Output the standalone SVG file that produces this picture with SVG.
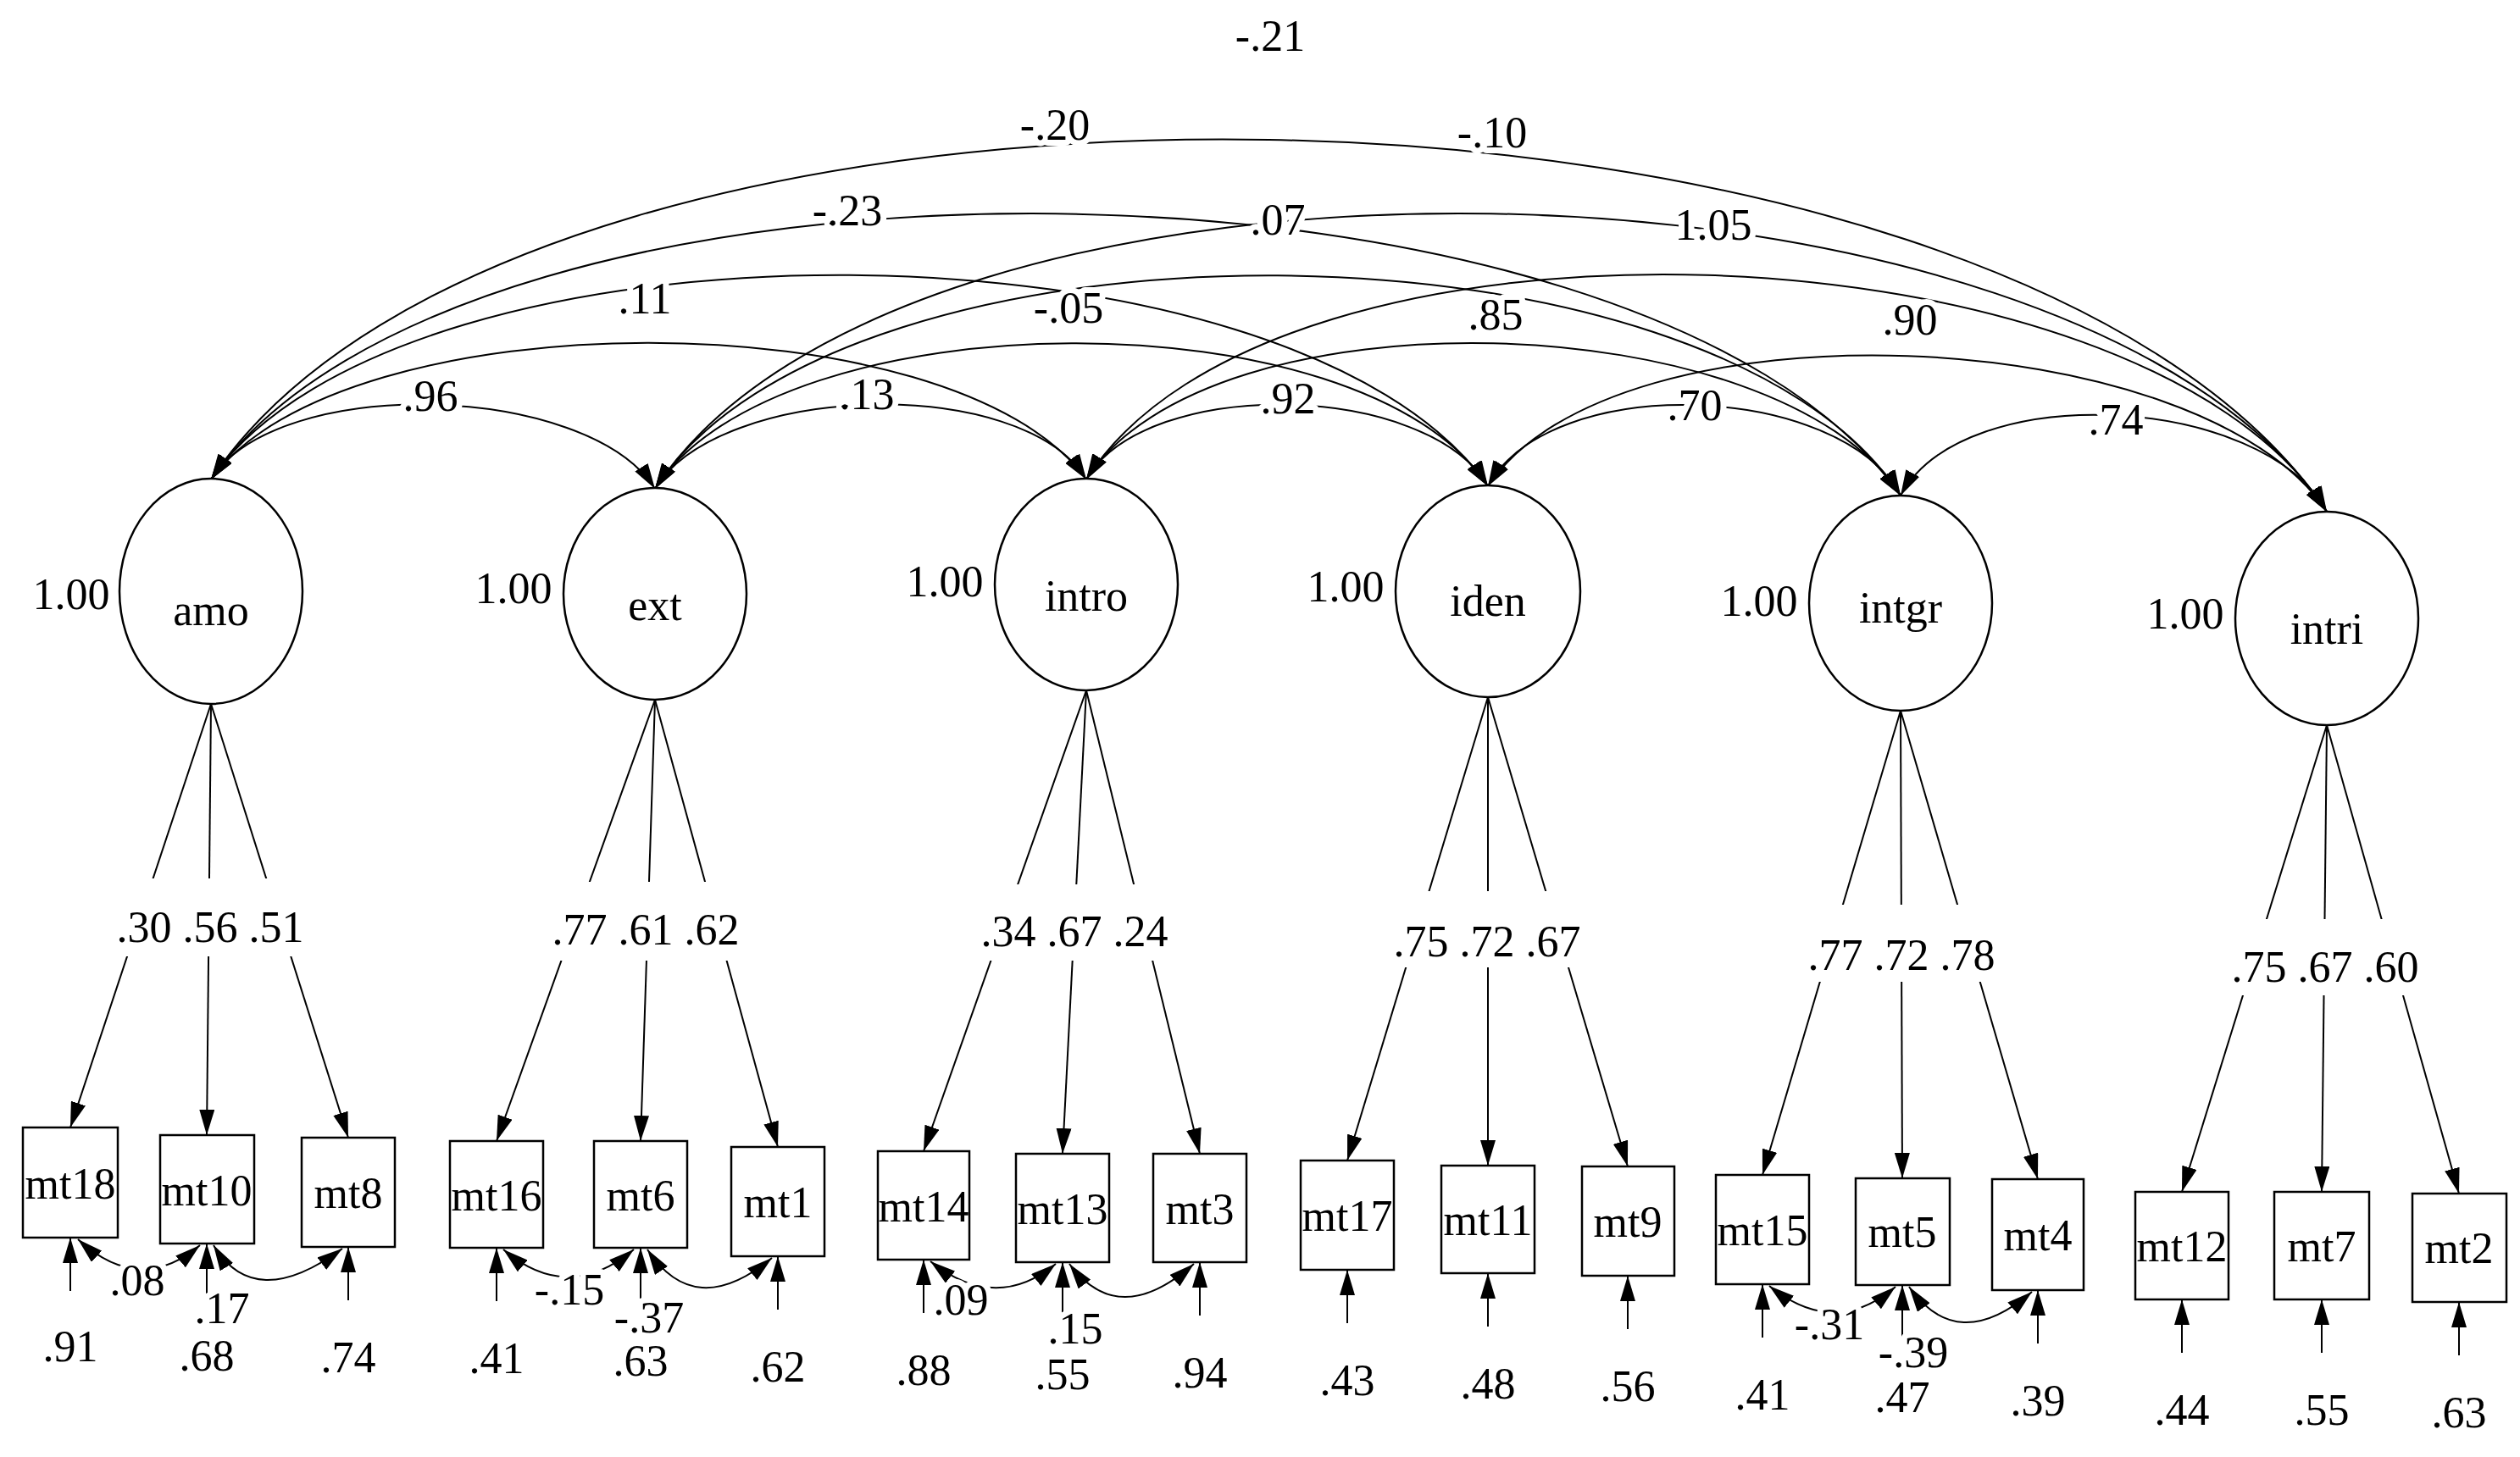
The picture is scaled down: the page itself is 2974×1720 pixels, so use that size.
<svg xmlns="http://www.w3.org/2000/svg" width="2974" height="1720" viewBox="0 0 2974 1720">
<style>
text{font-family:"Liberation Serif","Times New Roman",serif;font-size:52px;fill:#000;text-anchor:middle}
.h{stroke:#fff;stroke-width:14;paint-order:stroke;stroke-linejoin:round}
.n ellipse,.n rect{fill:#fff;stroke:#000;stroke-width:2.5}
.cv{fill:none;stroke:#000;stroke-width:2;marker-start:url(#a);marker-end:url(#a)}
.ar{fill:none;stroke:#000;stroke-width:2;marker-end:url(#a)}
</style>
<defs>
<marker id="a" markerUnits="userSpaceOnUse" markerWidth="30" markerHeight="18" refX="30" refY="9" orient="auto-start-reverse"><path d="M0,0 L30,9 L0,18 z" fill="#000"/></marker>
</defs>
<rect width="2974" height="1720" fill="#fff"/>
<g id="connectors">
<path class="cv" d="M249,566 C328,441 694,452 773,577"/>
<path class="cv" d="M773,577 C849,452 1206,441 1282,566"/>
<path class="cv" d="M1282,566 C1353,443 1685,451 1756,574"/>
<path class="cv" d="M1756,574 C1829,439 2170,450 2243,585"/>
<path class="cv" d="M2243,585 C2318,446 2671,465 2746,604"/>
<path class="cv" d="M249,566 C404,351 1127,351 1282,566"/>
<path class="cv" d="M773,577 C920,350 1609,347 1756,574"/>
<path class="cv" d="M1282,566 C1426,339 2099,358 2243,585"/>
<path class="cv" d="M1756,574 C1905,349 2598,379 2746,604"/>
<path class="cv" d="M249,566 C475,239 1530,247 1756,574"/>
<path class="cv" d="M773,577 C993,236 2023,244 2243,585"/>
<path class="cv" d="M1282,566 C1502,219 2526,257 2746,604"/>
<path class="cv" d="M249,566 C548,135 1944,154 2243,585"/>
<path class="cv" d="M773,577 C1069,126 2450,153 2746,604"/>
<path class="cv" d="M249,566 C624,6 2371,44 2746,604"/>
<path class="ar" d="M249,831 L83,1331"/><path class="ar" d="M249,831 L244,1340"/><path class="ar" d="M249,831 L411,1343"/>
<path class="ar" d="M773,826 L586,1347"/><path class="ar" d="M773,826 L756,1347"/><path class="ar" d="M773,826 L918,1354"/>
<path class="ar" d="M1282,815 L1090,1359"/><path class="ar" d="M1282,815 L1254,1362"/><path class="ar" d="M1282,815 L1416,1362"/>
<path class="ar" d="M1756,823 L1590,1370"/><path class="ar" d="M1756,823 L1756,1376"/><path class="ar" d="M1756,823 L1921,1377"/>
<path class="ar" d="M2243,839 L2080,1387"/><path class="ar" d="M2243,839 L2245,1391"/><path class="ar" d="M2243,839 L2405,1392"/>
<path class="ar" d="M2746,856 L2575,1407"/><path class="ar" d="M2746,856 L2740,1407"/><path class="ar" d="M2746,856 L2902,1409"/>
<rect x="120" y="1037" width="260" height="92" fill="#fff"/>
<rect x="640" y="1041" width="250" height="93" fill="#fff"/>
<rect x="1145" y="1044" width="250" height="90" fill="#fff"/>
<rect x="1630" y="1052" width="250" height="90" fill="#fff"/>
<rect x="2120" y="1068" width="250" height="91" fill="#fff"/>
<rect x="2620" y="1085" width="250" height="90" fill="#fff"/>
<path class="ar" d="M83,1524 L83,1461"/><path class="ar" d="M244,1531 L244,1468"/><path class="ar" d="M411,1535 L411,1472"/>
<path class="ar" d="M586,1536 L586,1473"/><path class="ar" d="M756,1536 L756,1473"/><path class="ar" d="M918,1546 L918,1483"/>
<path class="ar" d="M1090,1550 L1090,1487"/><path class="ar" d="M1254,1553 L1254,1490"/><path class="ar" d="M1416,1553 L1416,1490"/>
<path class="ar" d="M1590,1562 L1590,1499"/><path class="ar" d="M1756,1566 L1756,1503"/><path class="ar" d="M1921,1569 L1921,1506"/>
<path class="ar" d="M2080,1579 L2080,1516"/><path class="ar" d="M2245,1580 L2245,1517"/><path class="ar" d="M2405,1586 L2405,1523"/>
<path class="ar" d="M2575,1597 L2575,1534"/><path class="ar" d="M2740,1597 L2740,1534"/><path class="ar" d="M2902,1600 L2902,1537"/>
<path class="cv" d="M92,1463 Q165,1530 236,1470"/>
<path class="cv" d="M252,1470 Q300,1550 404,1474"/>
<path class="cv" d="M594,1475 Q670,1540 748,1475"/>
<path class="cv" d="M764,1475 Q820,1560 911,1485"/>
<path class="cv" d="M1098,1489 Q1175,1550 1246,1492"/>
<path class="cv" d="M1262,1492 Q1320,1570 1409,1492"/>
<path class="cv" d="M2088,1518 Q2165,1580 2237,1519"/>
<path class="cv" d="M2253,1519 Q2310,1600 2398,1525"/>
</g>
<g id="labels">
<text x="1499" y="60">-.21</text>
<text class="h" x="1245" y="165">-.20</text>
<text class="h" x="1761" y="174">-.10</text>
<text class="h" x="1000" y="266">-.23</text>
<text class="h" x="1508" y="277">.07</text>
<text class="h" x="2022" y="283">1.05</text>
<text class="h" x="761" y="370">.11</text>
<text class="h" x="1261" y="381">-.05</text>
<text class="h" x="1765" y="389">.85</text>
<text class="h" x="2254" y="395">.90</text>
<text class="h" x="508" y="485">.96</text>
<text class="h" x="1023" y="483">.13</text>
<text class="h" x="1520" y="488">.92</text>
<text class="h" x="2000" y="496">.70</text>
<text class="h" x="2497" y="513">.74</text>
<text x="248" y="1112">.30 .56 .51</text>
<text x="762" y="1115">.77 .61 .62</text>
<text x="1268" y="1117">.34 .67 .24</text>
<text x="1755" y="1129">.75 .72 .67</text>
<text x="2244" y="1145">.77 .72 .78</text>
<text x="2744" y="1159">.75 .67 .60</text>
<text class="h" x="162" y="1529">.08</text>
<text class="h" x="262" y="1562">.17</text>
<text class="h" x="672" y="1540">-.15</text>
<text class="h" x="766" y="1573">-.37</text>
<text class="h" x="1134" y="1552">.09</text>
<text class="h" x="1269" y="1586">.15</text>
<text class="h" x="2159" y="1581">-.31</text>
<text class="h" x="2258" y="1614">-.39</text>
<text x="83" y="1607">.91</text><text x="244" y="1618">.68</text><text x="411" y="1620">.74</text>
<text x="586" y="1621">.41</text><text x="756" y="1624">.63</text><text x="918" y="1631">.62</text>
<text x="1090" y="1635">.88</text><text x="1254" y="1640">.55</text><text x="1416" y="1638">.94</text>
<text x="1590" y="1647">.43</text><text x="1756" y="1651">.48</text><text x="1921" y="1654">.56</text>
<text x="2080" y="1664">.41</text><text x="2245" y="1667">.47</text><text x="2405" y="1671">.39</text>
<text x="2575" y="1682">.44</text><text x="2740" y="1682">.55</text><text x="2902" y="1685">.63</text>
</g>
<g id="amo" class="n"><ellipse cx="249" cy="698" rx="108" ry="133"/><text x="249" y="738">amo</text><text x="84" y="719">1.00</text></g>
<g id="ext" class="n"><ellipse cx="773" cy="701" rx="108" ry="125"/><text x="773" y="732">ext</text><text x="606" y="712">1.00</text></g>
<g id="intro" class="n"><ellipse cx="1282" cy="690" rx="108" ry="125"/><text x="1282" y="721">intro</text><text x="1115" y="704">1.00</text></g>
<g id="iden" class="n"><ellipse cx="1756" cy="698" rx="109" ry="125"/><text x="1756" y="727">iden</text><text x="1588" y="710">1.00</text></g>
<g id="intgr" class="n"><ellipse cx="2243" cy="712" rx="108" ry="127"/><text x="2243" y="735">intgr</text><text x="2076" y="727">1.00</text></g>
<g id="intri" class="n"><ellipse cx="2746" cy="730" rx="108" ry="126"/><text x="2746" y="760">intri</text><text x="2579" y="742">1.00</text></g>
<g id="mt18" class="n"><rect x="27" y="1331" width="112" height="130"/><text x="83" y="1415">mt18</text></g>
<g id="mt10" class="n"><rect x="189" y="1340" width="111" height="128"/><text x="244" y="1423">mt10</text></g>
<g id="mt8" class="n"><rect x="356" y="1343" width="110" height="129"/><text x="411" y="1426">mt8</text></g>
<g id="mt16" class="n"><rect x="531" y="1347" width="110" height="126"/><text x="586" y="1429">mt16</text></g>
<g id="mt6" class="n"><rect x="701" y="1347" width="110" height="126"/><text x="756" y="1429">mt6</text></g>
<g id="mt1" class="n"><rect x="863" y="1354" width="110" height="129"/><text x="918" y="1437">mt1</text></g>
<g id="mt14" class="n"><rect x="1036" y="1359" width="108" height="128"/><text x="1090" y="1442">mt14</text></g>
<g id="mt13" class="n"><rect x="1199" y="1362" width="110" height="128"/><text x="1254" y="1445">mt13</text></g>
<g id="mt3" class="n"><rect x="1361" y="1362" width="110" height="128"/><text x="1416" y="1445">mt3</text></g>
<g id="mt17" class="n"><rect x="1535" y="1370" width="110" height="129"/><text x="1590" y="1453">mt17</text></g>
<g id="mt11" class="n"><rect x="1701" y="1376" width="110" height="127"/><text x="1756" y="1458">mt11</text></g>
<g id="mt9" class="n"><rect x="1867" y="1377" width="109" height="129"/><text x="1921" y="1460">mt9</text></g>
<g id="mt15" class="n"><rect x="2025" y="1387" width="110" height="129"/><text x="2080" y="1470">mt15</text></g>
<g id="mt5" class="n"><rect x="2190" y="1391" width="111" height="126"/><text x="2245" y="1472">mt5</text></g>
<g id="mt4" class="n"><rect x="2351" y="1392" width="108" height="131"/><text x="2405" y="1476">mt4</text></g>
<g id="mt12" class="n"><rect x="2520" y="1407" width="110" height="127"/><text x="2575" y="1489">mt12</text></g>
<g id="mt7" class="n"><rect x="2684" y="1407" width="112" height="127"/><text x="2740" y="1489">mt7</text></g>
<g id="mt2" class="n"><rect x="2847" y="1409" width="111" height="128"/><text x="2902" y="1491">mt2</text></g>
</svg>
